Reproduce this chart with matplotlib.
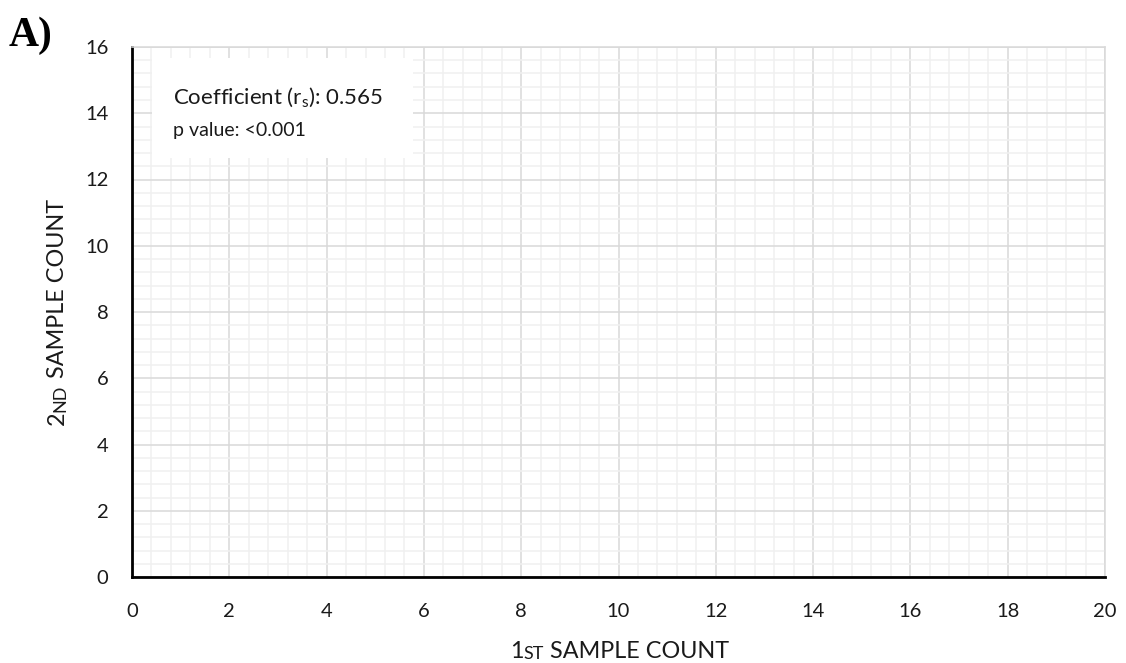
import matplotlib
matplotlib.use("Agg")
import matplotlib.pyplot as plt
from matplotlib.ticker import MultipleLocator
from matplotlib.patches import Rectangle

# ---- data (the reference shows no plotted points) ----
first_sample = []
second_sample = []
x_ticks = [0, 2, 4, 6, 8, 10, 12, 14, 16, 18, 20]
y_ticks = [0, 2, 4, 6, 8, 10, 12, 14, 16]
coef_text = r"Coefficient (r$_\mathregular{s}$): 0.565"
p_text = "p value: <0.001"
panel_label = "A)"

plt.rcParams['font.family'] = ['Lato', 'DejaVu Sans']
plt.rcParams['mathtext.fontset'] = 'custom'
plt.rcParams['mathtext.rm'] = 'Lato'

fig = plt.figure(figsize=(11.26, 6.63), dpi=100)
W, H = 1126, 663
ax = fig.add_axes([132 / W, 1 - 577 / H, (1105 - 132) / W, (577 - 47) / H])

ax.scatter(first_sample, second_sample, color='#4472c4', s=30, zorder=5)

ax.set_xlim(x_ticks[0], x_ticks[-1])
ax.set_ylim(y_ticks[0], y_ticks[-1])
ax.set_xticks(x_ticks)
ax.set_yticks(y_ticks)
ax.xaxis.set_minor_locator(MultipleLocator(0.4))
ax.yaxis.set_minor_locator(MultipleLocator(0.4))
ax.set_axisbelow(True)
ax.grid(which='major', color='#d9d9d9', lw=1.1)
ax.grid(which='minor', color='#f0f0f0', lw=1.1)
ax.tick_params(which='both', length=0)
ax.tick_params(axis='x', pad=18.5, labelsize=14.5, colors='#1a1a1a')
ax.tick_params(axis='y', pad=17, labelsize=14.5, colors='#1a1a1a')

for s in ['top', 'right']:
    ax.spines[s].set_color('#d9d9d9')
    ax.spines[s].set_linewidth(1.1)
for s in ['left', 'bottom']:
    ax.spines[s].set_color('black')
    ax.spines[s].set_linewidth(2.0)

# annotation box
ax.add_patch(Rectangle((20 / 973, 1 - 111 / 530), (413 - 152) / 973, 100 / 530,
                       transform=ax.transAxes, facecolor='white', edgecolor='none', zorder=3))
ax.text(41 / 973, 1 - 57 / 530, coef_text, transform=ax.transAxes, fontsize=16,
        va='baseline', ha='left', zorder=4, color='#1a1a1a')
ax.text(41 / 973, 1 - 89 / 530, p_text, transform=ax.transAxes, fontsize=14,
        va='baseline', ha='left', zorder=4, color='#1a1a1a')

# panel label
fig.text(9 / W, 1 - 46 / H, panel_label, fontsize=30, fontweight='bold',
         family='Liberation Serif', ha='left', va='baseline')

# x label with small caps
big, small = 16.8, 13
t1 = fig.text(510 / W, 1 - 658 / H, "1", fontsize=big, va='baseline', ha='left', color='#1a1a1a')
t2 = ax.annotate("ST", xy=(1, 0), xycoords=t1, fontsize=small, va='bottom', ha='left',
                 color='#1a1a1a', annotation_clip=False)
t3 = ax.annotate(" SAMPLE COUNT", xy=(1, 0), xycoords=t2, fontsize=big, va='bottom', ha='left',
                 color='#1a1a1a', annotation_clip=False)

# y label with small caps (rotated)
y1 = fig.text(68 / W, 1 - 425 / H, "2", fontsize=big, rotation=90, va='bottom', ha='right', color='#1a1a1a')
y2 = ax.annotate("ND", xy=(1, 1), xycoords=y1, fontsize=small, rotation=90, va='bottom', ha='right',
                 color='#1a1a1a', annotation_clip=False)
y3 = ax.annotate(" SAMPLE COUNT", xy=(1, 1), xycoords=y2, fontsize=big, rotation=90, va='bottom',
                 ha='right', color='#1a1a1a', annotation_clip=False)

fig.savefig("out.png", dpi=100)
